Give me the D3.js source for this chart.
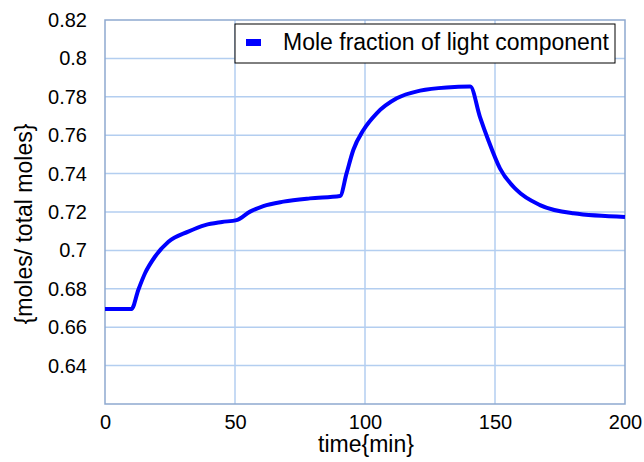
<!DOCTYPE html>
<html>
<head>
<meta charset="utf-8">
<script src="https://cdn.jsdelivr.net/npm/d3@7"></script>
<style>
  body { margin: 0; background: #fff; }
  text { font-family: "Liberation Sans", Arial, sans-serif; fill: #000; }
</style>
</head>
<body>
<svg id="svg" width="644" height="462"></svg>
<script>
// values
let time = [0, 10.2, 12.8, 15.4, 19.2, 24.4, 32, 38.5, 45, 50.6, 55.8, 60.9, 68.6, 78.8, 90.4,
  92.9, 95.5, 99.4, 104.5, 112.2, 121.2, 131.4, 140.5,
  144.2, 147.4, 151.9, 158.3, 167.3, 180.1, 200];
let moleFraction = [0.6695, 0.6695, 0.6794, 0.6881, 0.6967, 0.7045, 0.7098, 0.7132, 0.7148, 0.7158, 0.7202, 0.7231, 0.7254, 0.7271, 0.7283,
  0.7401, 0.7523, 0.7627, 0.7714, 0.7792, 0.7832, 0.7849, 0.7853,
  0.7696, 0.7575, 0.7427, 0.7315, 0.7236, 0.7193, 0.7174];

let xTicks = [0, 50, 100, 150, 200];
let yTicks = [0.62, 0.64, 0.66, 0.68, 0.7, 0.72, 0.74, 0.76, 0.78, 0.8, 0.82];
let seriesName = "Mole fraction of light component";

let margin = { top: 20, right: 19, bottom: 58, left: 105 };
let width = 644 - margin.left - margin.right;
let height = 462 - margin.top - margin.bottom;

let data = time.map((t, i) => ({ t: t, v: moleFraction[i] }));

let x = d3.scaleLinear().domain([0, 200]).range([0, width]);
let y = d3.scaleLinear().domain([0.62, 0.82]).range([height, 0]);

let svg = d3.select("#svg");
let g = svg.append("g").attr("transform", `translate(${margin.left},${margin.top})`);

// grid
g.selectAll(".vgrid").data(xTicks.slice(1, -1)).enter().append("line")
  .attr("x1", d => x(d)).attr("x2", d => x(d))
  .attr("y1", 0).attr("y2", height)
  .attr("stroke", "#b3cef0").attr("stroke-width", 1.5);
g.selectAll(".hgrid").data(yTicks.slice(1, -1)).enter().append("line")
  .attr("x1", 0).attr("x2", width)
  .attr("y1", d => y(d)).attr("y2", d => y(d))
  .attr("stroke", "#b3cef0").attr("stroke-width", 1.5);

// frame
g.append("rect").attr("x", 0).attr("y", 0).attr("width", width).attr("height", height)
  .attr("fill", "none").attr("stroke", "#8ea9cf").attr("stroke-width", 1.5);

// axes
let xAxis = g.append("g").attr("transform", `translate(0,${height})`)
  .call(d3.axisBottom(x).tickValues(xTicks).tickSize(0).tickPadding(11).tickFormat(d3.format("d")));
xAxis.select(".domain").remove();
xAxis.selectAll("text").attr("font-size", 20);

let yAxis = g.append("g")
  .call(d3.axisLeft(y).tickValues(yTicks.slice(1)).tickSize(0).tickPadding(18).tickFormat(d => String(+d.toFixed(2))));
yAxis.select(".domain").remove();
yAxis.selectAll("text").attr("font-size", 20);

// line
g.append("path").datum(data)
  .attr("fill", "none").attr("stroke", "#0000ff").attr("stroke-width", 4)
  .attr("stroke-linejoin", "round")
  .attr("d", d3.line().x(d => x(d.t)).y(d => y(d.v)).curve(d3.curveMonotoneX));

// axis titles
svg.append("text").attr("x", 366).attr("y", 452)
  .attr("text-anchor", "middle").attr("font-size", 23).text("time{min}");
svg.append("text").attr("transform", "translate(32,224) rotate(-90)")
  .attr("text-anchor", "middle").attr("font-size", 23).text("{moles/ total moles}");

// legend
let lg = svg.append("g").attr("transform", "translate(235,24)");
lg.append("rect").attr("width", 380).attr("height", 39)
  .attr("fill", "#fff").attr("stroke", "#000").attr("stroke-width", 1);
lg.append("rect").attr("x", 11).attr("y", 15).attr("width", 15).attr("height", 7).attr("fill", "#0000ff");
lg.append("text").attr("x", 48).attr("y", 26).attr("font-size", 23).text(seriesName);
</script>
</body>
</html>
